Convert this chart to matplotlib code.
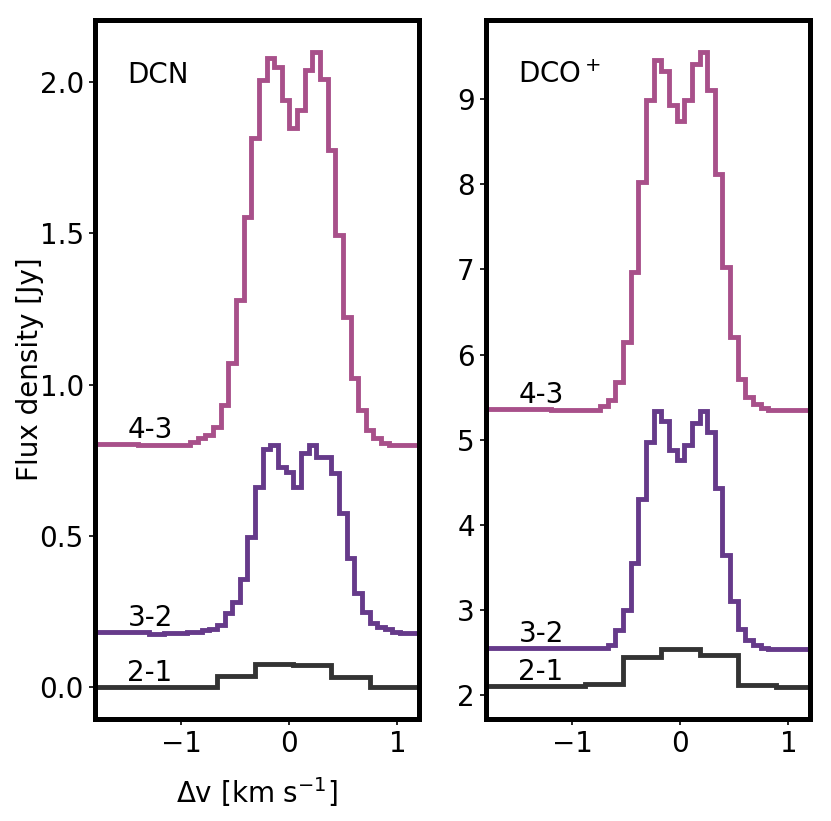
import numpy as np
import matplotlib.pyplot as plt

# DCN spectra (channel edges in km/s, flux in Jy)
dcn43_edges = [-1.9, -1.4, -0.919, -0.848, -0.778, -0.707, -0.636, -0.566, -0.495, -0.424,
               -0.354, -0.283, -0.212, -0.141, -0.071, 0.0, 0.071, 0.141, 0.212, 0.283,
               0.354, 0.424, 0.495, 0.566, 0.636, 0.707, 0.778, 0.848, 0.919, 1.3]
dcn43_flux = [0.803, 0.799, 0.811, 0.822, 0.833, 0.861, 0.932, 1.070, 1.279, 1.554,
              1.813, 2.006, 2.077, 2.050, 1.940, 1.846, 1.907, 2.039, 2.099, 2.008,
              1.774, 1.494, 1.224, 1.020, 0.916, 0.850, 0.822, 0.806, 0.801]

dcn32_edges = [-1.9, -1.3, -1.16, -0.95, -0.813, -0.742, -0.672, -0.601, -0.530, -0.460,
               -0.389, -0.318, -0.247, -0.177, -0.106, -0.035, 0.035, 0.106, 0.177, 0.247,
               0.318, 0.389, 0.460, 0.530, 0.601, 0.672, 0.742, 0.813, 0.884, 0.954,
               1.025, 1.3]
dcn32_flux = [0.183, 0.177, 0.180, 0.184, 0.189, 0.194, 0.206, 0.246, 0.283, 0.357,
              0.497, 0.660, 0.787, 0.800, 0.726, 0.712, 0.662, 0.773, 0.800, 0.759,
              0.759, 0.707, 0.577, 0.426, 0.310, 0.250, 0.213, 0.200, 0.191, 0.183,
              0.178]

dcn21_edges = [-1.9, -0.672, -0.318, 0.035, 0.389, 0.742, 1.3]
dcn21_flux = [0.0, 0.037, 0.076, 0.074, 0.033, 0.0]

# DCO+ spectra
dco43_edges = [-1.9, -1.2, -0.742, -0.672, -0.601, -0.530, -0.460, -0.389, -0.318, -0.247,
               -0.177, -0.106, -0.035, 0.035, 0.106, 0.177, 0.247, 0.318, 0.389, 0.460,
               0.530, 0.601, 0.672, 0.742, 0.813, 1.3]
dco43_flux = [5.362, 5.355, 5.394, 5.465, 5.680, 6.150, 6.972, 8.029, 8.988, 9.466,
              9.333, 8.930, 8.745, 8.988, 9.411, 9.556, 9.106, 8.119, 7.030, 6.208,
              5.708, 5.497, 5.418, 5.374, 5.355]

dco32_edges = [-1.9, -0.672, -0.601, -0.530, -0.460, -0.389, -0.318, -0.247, -0.177, -0.106,
               -0.035, 0.035, 0.106, 0.177, 0.247, 0.318, 0.389, 0.460, 0.530, 0.601,
               0.672, 0.742, 0.813, 1.3]
dco32_flux = [2.556, 2.587, 2.763, 3.006, 3.554, 4.310, 4.975, 5.339, 5.222, 4.878,
              4.760, 4.936, 5.198, 5.339, 5.093, 4.428, 3.644, 3.108, 2.783, 2.653,
              2.587, 2.560, 2.548]

dco21_edges = [-1.9, -0.884, -0.530, -0.177, 0.177, 0.530, 0.884, 1.3]
dco21_flux = [2.106, 2.126, 2.450, 2.548, 2.470, 2.117, 2.098]

transitions = ['4-3', '3-2', '2-1']
colors = ['#a8508a', '#663a8a', '#333333']

fs = 20
fig = plt.figure(figsize=(8.31, 8.21), dpi=100)
ax1 = fig.add_axes([0.1143, 0.1242, 0.39, 0.8514])
ax2 = fig.add_axes([0.5848, 0.1242, 0.39, 0.8514])

panels = [
    (ax1, 'DCN', [(dcn43_edges, dcn43_flux), (dcn32_edges, dcn32_flux), (dcn21_edges, dcn21_flux)],
     (-0.105, 2.204)),
    (ax2, 'DCO$^+$', [(dco43_edges, dco43_flux), (dco32_edges, dco32_flux), (dco21_edges, dco21_flux)],
     (1.72, 9.93)),
]

for ax, name, spectra, ylim in panels:
    for (edges, flux), lab, c in zip(spectra, transitions, colors):
        ax.stairs(flux, edges, baseline=None, color=c, lw=3.5)
        # transition label sits on the spectrum baseline
        ax.text(-1.5, flux[0], lab, va='bottom', ha='left', fontsize=fs)
    ax.text(0.1, 0.91, name, transform=ax.transAxes, va='baseline', ha='left', fontsize=fs)
    ax.set_xlim(-1.8, 1.2)
    ax.set_ylim(*ylim)
    ax.set_xticks([-1, 0, 1])
    for sp in ax.spines.values():
        sp.set_linewidth(3.6)
    ax.tick_params(labelsize=fs, length=4.5, width=1.2)

ax1.set_yticks([0.0, 0.5, 1.0, 1.5, 2.0])
ax2.set_yticks([2, 3, 4, 5, 6, 7, 8, 9])
ax1.set_ylabel('Flux density [Jy]', fontsize=fs, labelpad=-3)
ax1.set_xlabel('Δv [km s$^{-1}$]', fontsize=fs, labelpad=12)

fig.savefig('out.png', dpi=100)
